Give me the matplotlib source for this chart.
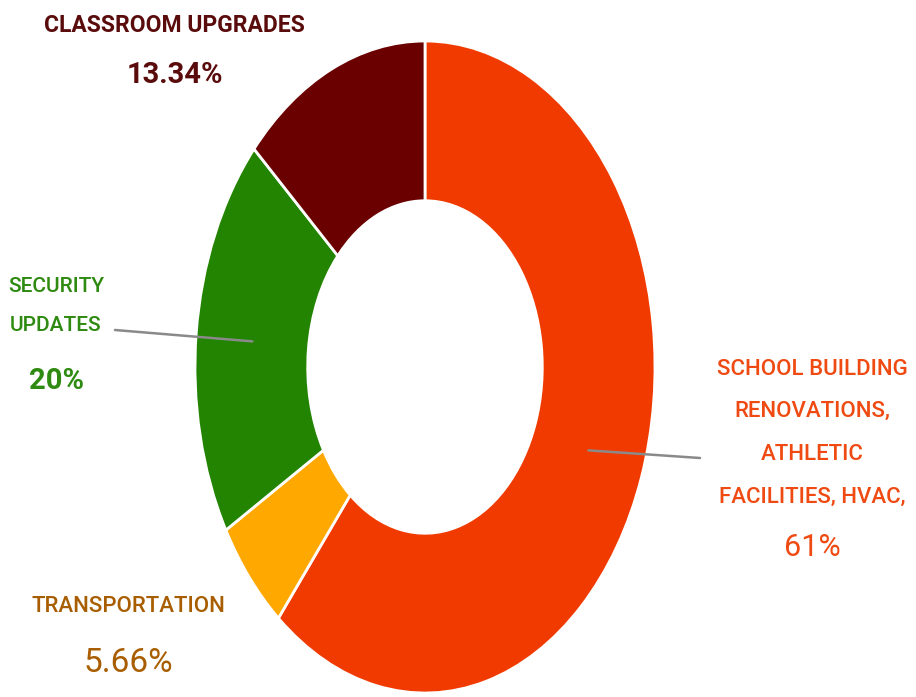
import numpy as np
import matplotlib
matplotlib.use("Agg")
import matplotlib.pyplot as plt

categories = ["SCHOOL BUILDING\nRENOVATIONS,\nATHLETIC\nFACILITIES, HVAC,",
              "TRANSPORTATION", "SECURITY\nUPDATES", "CLASSROOM UPGRADES"]
values = [61, 5.66, 20, 13.34]
pct_labels = ["61%", "5.66%", "20%", "13.34%"]
colors = ["#F03A00", "#FFA800", "#228400", "#6A0000"]
text_colors = ["#EE4A12", "#A85E00", "#2E8A10", "#5A0C0C"]

W, H = 916, 697
fig = plt.figure(figsize=(W / 100, H / 100), dpi=100)
fam = ['Roboto', 'DejaVu Sans']
plt.rcParams['font.family'] = fam

def px(x, y):
    return (x / W, 1 - y / H)

# donut axes (elliptical)
left, right, top, bottom = 195, 655, 41, 693
ax = fig.add_axes([left / W, (H - bottom) / H, (right - left) / W, (bottom - top) / H])
wedges, _ = ax.pie(values, colors=colors, startangle=90, counterclock=False,
                   radius=1, wedgeprops=dict(width=0.49, edgecolor="white", linewidth=2))
ax.set_aspect('auto')
ax.set_xlim(-1, 1)
ax.set_ylim(-1, 1)
ax.axis('off')

# Classroom upgrades
fig.text(*px(174, 25), categories[3], color=text_colors[3], fontsize=16.5, fontweight='bold',
         ha='center', va='center', family=fam)
fig.text(*px(175, 75), pct_labels[3], color=text_colors[3], fontsize=21, fontweight='bold',
         ha='center', va='center', family=fam)

# Security
fig.text(*px(56, 306), categories[2], color=text_colors[2], fontsize=15, fontweight='medium',
         ha='center', va='center', family=fam, linespacing=2.35)
fig.text(*px(56, 381), pct_labels[2], color=text_colors[2], fontsize=21, fontweight='bold',
         ha='center', va='center', family=fam)

# School building
fig.text(*px(812, 433), categories[0], color=text_colors[0], fontsize=16, fontweight='medium',
         ha='center', va='center', family=fam, linespacing=2.35)
fig.text(*px(812, 548), pct_labels[0], color=text_colors[0], fontsize=22,
         ha='center', va='center', family=fam)

# Transportation
fig.text(*px(128, 607), categories[1], color=text_colors[1], fontsize=16, fontweight='medium',
         ha='center', va='center', family=fam)
fig.text(*px(128, 663), pct_labels[1], color=text_colors[1], fontsize=24,
         ha='center', va='center', family=fam)

# leader lines from wedge middles
def mid_point(w, r=0.755):
    ang = np.deg2rad((w.theta1 + w.theta2) / 2)
    return r * np.cos(ang), r * np.sin(ang)

for idx, tpos in [(2, (115, 330)), (0, (700, 458))]:
    ax.annotate("", xy=mid_point(wedges[idx]), xycoords='data',
                xytext=px(*tpos), textcoords='figure fraction',
                arrowprops=dict(arrowstyle='-', color='#8A8A8A', lw=1.8,
                                shrinkA=0, shrinkB=0))

fig.savefig("out.png", dpi=100)
